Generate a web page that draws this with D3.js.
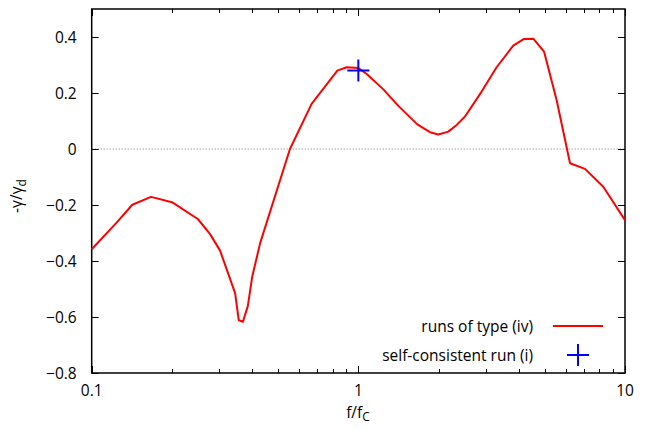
<!DOCTYPE html>
<html><head><meta charset="utf-8">
<script src="https://cdn.jsdelivr.net/npm/d3@7"></script>
<style>
body{margin:0;background:#fff;}
text{font-family:"Open Sans",sans-serif;}
</style></head>
<body><svg id="c" width="646" height="430"></svg>
<script>
const freqs = [0.1,0.124,0.142,0.167,0.2,0.25,0.278,0.303,0.345,0.356,0.369,0.385,0.40,0.428,0.554,0.668,0.834,0.904,1.0,1.075,1.241,1.413,1.664,1.857,1.995,2.175,2.338,2.512,2.90,3.30,3.81,4.18,4.53,4.97,5.54,6.22,7.08,8.29,10];
const gammas = [-0.358,-0.263,-0.199,-0.171,-0.190,-0.25,-0.304,-0.363,-0.515,-0.611,-0.617,-0.561,-0.456,-0.337,0,0.161,0.280,0.292,0.289,0.268,0.213,0.154,0.088,0.060,0.052,0.062,0.086,0.116,0.205,0.292,0.369,0.393,0.394,0.348,0.175,-0.051,-0.071,-0.135,-0.254];
const scF = [1.0];
const scG = [0.28];
const yTicks = [-0.8,-0.6,-0.4,-0.2,0,0.2,0.4];
const xTicks = [0.1,1,10];
const legendLabels = ["runs of type (iv)","self-consistent run (i)"];

const svg = d3.select("#c");
const L=91.7,R=625,T=9,B=373;
const x = d3.scaleLog().domain([0.1,10]).range([L,R]);
const y = d3.scaleLinear().domain([-0.8,0.5]).range([B,T]);
const fs = 15.5;

// zero line
svg.append("line").attr("x1",L).attr("x2",R).attr("y1",y(0)).attr("y2",y(0))
  .attr("stroke","#777").attr("stroke-width",1).attr("stroke-dasharray","1,2");

// minor x ticks
const minor = [];
for (const d of [0.1,1]) for (let k=2;k<=9;k++) minor.push(d*k);
const g = svg.append("g").attr("stroke","#000").attr("stroke-width",1);
minor.forEach(v=>{
  const px=Math.round(x(v))+0.5;
  g.append("line").attr("x1",px).attr("x2",px).attr("y1",B).attr("y2",B-4);
  g.append("line").attr("x1",px).attr("x2",px).attr("y1",T).attr("y2",T+4);
});
xTicks.forEach(v=>{
  const px=Math.round(x(v))+0.5;
  g.append("line").attr("x1",px).attr("x2",px).attr("y1",B).attr("y2",B-7);
  g.append("line").attr("x1",px).attr("x2",px).attr("y1",T).attr("y2",T+7);
  svg.append("text").attr("x",x(v)).attr("y",B+23).attr("text-anchor","middle")
    .attr("font-size",fs).text(v===0.1?"0.1":String(v));
});
yTicks.forEach(v=>{
  const py=Math.round(y(v))+0.5;
  g.append("line").attr("x1",L).attr("x2",L+7).attr("y1",py).attr("y2",py);
  g.append("line").attr("x1",R).attr("x2",R-7).attr("y1",py).attr("y2",py);
  svg.append("text").attr("x",L-15).attr("y",y(v)+5.5).attr("text-anchor","end")
    .attr("font-size",fs).text(v===0?"0":d3.format(".1f")(v));
});

// frame
svg.append("rect").attr("x",L).attr("y",T).attr("width",R-L).attr("height",B-T)
  .attr("fill","none").attr("stroke","#000").attr("stroke-width",1.5);

// curve
const line = d3.line().x((d,i)=>x(freqs[i])).y((d,i)=>y(gammas[i]));
svg.append("path").attr("d",line(gammas)).attr("fill","none")
  .attr("stroke","#ff0000").attr("stroke-width",2).attr("stroke-linejoin","round");

// plus marker
function plus(cx,cy){
  svg.append("path").attr("d",`M${cx-11},${cy}H${cx+11}M${cx},${cy-11}V${cy+11}`)
    .attr("stroke","#0000ff").attr("stroke-width",2).attr("fill","none");
}
scF.forEach((f,i)=>plus(x(f),y(scG[i])));

// legend
svg.append("text").attr("x",533).attr("y",332).attr("text-anchor","end").attr("font-size",fs).text(legendLabels[0]);
svg.append("line").attr("x1",553).attr("x2",603).attr("y1",326).attr("y2",326).attr("stroke","#ff0000").attr("stroke-width",2);
svg.append("text").attr("x",533).attr("y",361).attr("text-anchor","end").attr("font-size",fs).text(legendLabels[1]);
plus(578,355);

// axis labels
const xl = svg.append("text").attr("x",358).attr("y",418).attr("text-anchor","middle").attr("font-size",fs);
xl.append("tspan").text("f/f");
xl.append("tspan").attr("font-size",12).attr("dy",3).text("C");
const yl = svg.append("text").attr("transform","translate(22,196) rotate(-90)").attr("text-anchor","middle").attr("font-size",fs);
yl.append("tspan").text("-γ/γ");
yl.append("tspan").attr("font-size",12).attr("dy",4).text("d");
</script></body></html>
